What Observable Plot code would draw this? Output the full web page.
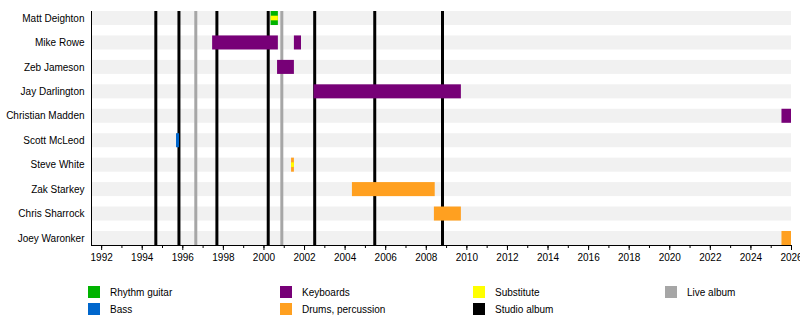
<!DOCTYPE html>
<html>
<head>
<meta charset="utf-8">
<script src="https://cdn.jsdelivr.net/npm/d3@7"></script>
<script src="https://cdn.jsdelivr.net/npm/@observablehq/plot@0.6"></script>
<style>
  html, body { margin: 0; padding: 0; background: white; }
  #wrap { position: relative; width: 800px; height: 324px; overflow: hidden; font-family: "Liberation Sans", Arial, sans-serif; }
  .sw { position: absolute; width: 12px; height: 12px; }
  .lt { position: absolute; font-size: 10px; line-height: 12px; color: #000; white-space: nowrap; }
</style>
</head>
<body>
<div id="wrap"></div>
<script>
// ---- data ----
const members = ["Matt Deighton","Mike Rowe","Zeb Jameson","Jay Darlington","Christian Madden","Scott McLeod","Steve White","Zak Starkey","Chris Sharrock","Joey Waronker"];
const roleNames = ["Rhythm guitar","Bass","Keyboards","Drums, percussion"];
const roleColors = ["#00b300","#0066cc","#770077","#ffa020"];

const spellMember = ["Matt Deighton","Mike Rowe","Mike Rowe","Zeb Jameson","Jay Darlington","Christian Madden","Scott McLeod","Steve White","Zak Starkey","Chris Sharrock","Joey Waronker"];
const spellRole = ["Rhythm guitar","Keyboards","Keyboards","Keyboards","Keyboards","Keyboards","Bass","Drums, percussion","Drums, percussion","Drums, percussion","Drums, percussion"];
const spellStart = [2000.35,1997.47,2001.50,2000.67,2002.47,2025.53,1995.69,2001.36,2004.36,2008.40,2025.53];
const spellEnd   = [2000.71,2000.71,2001.85,2001.50,2009.73,2026.00,1995.84,2001.50,2008.44,2009.73,2026.00];

const subMember = ["Matt Deighton","Steve White"];
const subStart = [2000.35,2001.36];
const subEnd   = [2000.71,2001.50];

const studioAlbums = [1994.67,1995.81,1997.68,2000.21,2002.50,2005.46,2008.80];
const liveAlbums = [1996.64,2000.88];

const timeStart = 1991.5, timeEnd = 2026;
const majorTicks = d3.range(1992, 2027, 2);
const minorTicks = d3.range(1992, 2026, 1);

const legendItems = [
  ["Rhythm guitar","#00b300"],["Bass","#0066cc"],
  ["Keyboards","#770077"],["Drums, percussion","#ffa020"],
  ["Substitute","#ffff00"],["Studio album","#000000"],
  ["Live album","#a6a6a6"]
];

// ---- build ----
const spells = spellMember.map((m,i) => ({member:m, role:spellRole[i], start:spellStart[i], end:spellEnd[i]}));
const subs = subMember.map((m,i) => ({member:m, start:subStart[i], end:subEnd[i]}));

const chart = Plot.plot({
  width: 800,
  height: 270,
  marginLeft: 91,
  marginRight: 9,
  marginTop: 11,
  marginBottom: 25,
  style: {fontFamily: '"Liberation Sans", Arial, sans-serif', fontSize: "10px", color: "#000", background: "white", overflow: "visible"},
  x: {domain: [timeStart, timeEnd], label: null},
  y: {domain: members, paddingInner: 0.426, paddingOuter: 0, round: false, label: null},
  color: {domain: roleNames, range: roleColors},
  marks: [
    Plot.barX(members, {y: d => d, x1: () => timeStart, x2: () => timeEnd, fill: "#f1f1f1"}),
    Plot.ruleX(liveAlbums, {x: d => d, stroke: "#a6a6a6", strokeWidth: 3}),
    Plot.ruleX(studioAlbums, {x: d => d, stroke: "#000", strokeWidth: 3}),
    Plot.barX(spells, {y: "member", x1: "start", x2: "end", fill: "role"}),
    Plot.barX(subs, {y: "member", x1: "start", x2: "end", fill: "#ffff00", insetTop: 4.7, insetBottom: 4.7}),
    Plot.frame({anchor: "left", stroke: "#000"}),
    Plot.frame({anchor: "bottom", stroke: "#000"}),
    Plot.axisX(minorTicks, {tickSize: 3, text: null, stroke: "#000"}),
    Plot.axisX(majorTicks, {tickSize: 5, tickPadding: 3, tickFormat: d => String(d), fontSize: 10, fill: "#000", stroke: "#000"}),
    Plot.axisY({tickSize: 0, tickPadding: 7, fontSize: 10, fill: "#000"})
  ]
});

const wrap = document.getElementById("wrap");
chart.style.position = "absolute";
chart.style.left = "0px";
chart.style.top = "0px";
wrap.appendChild(chart);

const colX = [88, 280, 473, 665];
const rowY = [286, 303];
legendItems.forEach(([label, color], i) => {
  const col = Math.floor(i / 2), row = i % 2;
  const sw = document.createElement("div");
  sw.className = "sw";
  sw.style.left = colX[col] + "px";
  sw.style.top = rowY[row] + "px";
  sw.style.background = color;
  wrap.appendChild(sw);
  const t = document.createElement("div");
  t.className = "lt";
  t.style.left = (colX[col] + 22) + "px";
  t.style.top = (rowY[row] + 1) + "px";
  t.textContent = label;
  wrap.appendChild(t);
});
</script>
</body>
</html>
